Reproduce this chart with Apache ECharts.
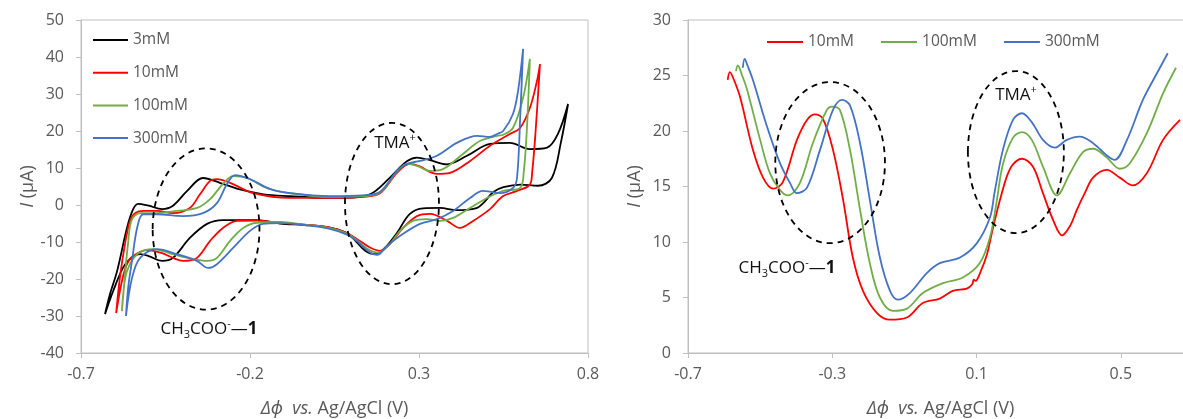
<!DOCTYPE html>
<html><head><meta charset="utf-8">
<script src="https://cdn.jsdelivr.net/npm/echarts@6/dist/echarts.min.js"></script>
<style>html,body{margin:0;padding:0;background:#fff}#chart{width:1183px;height:419px}</style>
</head><body><div id="chart"></div>
<script>
// ---------- Left panel: cyclic voltammograms [potential V, current uA] ----------
const cvNames = ['3mM', '10mM', '100mM', '300mM'];
const cv3mM = [
  [-0.629,-29.5],[-0.614,-24],[-0.593,-17.8],[-0.564,-6.2],[-0.546,-1.2],[-0.531,0.3],[-0.50,-0.2],[-0.46,-1.1],
  [-0.428,-0.2],[-0.386,3.8],[-0.339,7.3],[-0.289,6.0],[-0.23,4.2],[-0.16,2.9],[-0.082,2.4],[0.037,1.9],
  [0.081,1.9],[0.155,2.9],[0.214,7.4],[0.264,11.8],[0.294,12.8],[0.333,12.1],[0.383,11.0],[0.442,13.3],
  [0.51,16.5],[0.569,16.8],[0.628,15.1],[0.679,15.5],[0.711,19.2],[0.741,27.3],
  [0.72,17.0],[0.693,7.3],[0.652,5.2],[0.60,5.5],[0.55,4.8],[0.52,3.5],[0.49,0.5],[0.472,-0.8],[0.44,-1.3],
  [0.412,-1.4],[0.362,-0.8],[0.312,-0.9],[0.273,-2.4],[0.235,-7.5],[0.20,-11.5],[0.17,-13.3],[0.14,-12.3],
  [0.11,-9.5],[0.087,-7.6],[0.03,-6.0],[-0.04,-5.4],[-0.111,-5.0],[-0.18,-4.1],[-0.28,-4.1],[-0.327,-5.1],
  [-0.378,-8.9],[-0.428,-14.3],[-0.46,-15.1],[-0.50,-13.8],[-0.525,-13.3],[-0.555,-14.6],[-0.576,-17.0],
  [-0.605,-23.3],[-0.629,-29.5]
];
const cv10mM = [
  [-0.596,-29.2],[-0.585,-19.7],[-0.57,-10.6],[-0.555,-4.3],[-0.54,-2.2],[-0.515,-1.6],[-0.475,-1.6],[-0.428,-2.2],
  [-0.378,-0.8],[-0.348,2.9],[-0.318,6.5],[-0.298,7.0],[-0.259,6.0],[-0.19,3.2],[-0.082,1.9],[0.037,1.9],
  [0.134,2.2],[0.185,3.2],[0.235,8.7],[0.273,11.1],[0.30,10.5],[0.353,8.4],[0.392,8.7],[0.451,11.9],
  [0.51,16.0],[0.569,19.2],[0.599,20.8],[0.628,26.2],[0.649,33.5],[0.658,38.1],
  [0.645,20],[0.635,9],[0.628,5.5],[0.59,3.8],[0.549,2.4],[0.51,-1.1],[0.46,-4.3],[0.421,-6.2],[0.383,-4.3],
  [0.333,-2.4],[0.294,-3.0],[0.253,-6.2],[0.214,-10.5],[0.185,-12.4],[0.155,-11.5],[0.125,-9.7],[0.087,-7.6],
  [0.03,-6.0],[-0.04,-5.3],[-0.111,-4.8],[-0.18,-4.2],[-0.238,-4.3],[-0.28,-6.2],[-0.318,-9.7],[-0.357,-14.3],
  [-0.398,-15.1],[-0.428,-14.3],[-0.46,-13.0],[-0.505,-12.2],[-0.546,-13.8],[-0.564,-16.0],[-0.579,-20.6],[-0.596,-29.2]
];
const cv100mM = [
  [-0.579,-28.7],[-0.57,-19],[-0.561,-10.6],[-0.55,-4.0],[-0.525,-2.2],[-0.475,-2.2],[-0.416,-1.6],[-0.357,-0.8],
  [-0.318,1.6],[-0.28,5.7],[-0.25,7.8],[-0.209,7.3],[-0.15,4.6],[-0.082,3.2],[0.037,2.2],[0.134,2.4],
  [0.185,3.4],[0.235,9.0],[0.264,11.1],[0.294,10.6],[0.333,9.2],[0.371,9.7],[0.43,13.8],[0.48,17.3],
  [0.531,18.7],[0.549,19.0],[0.578,20.8],[0.608,29.0],[0.628,39.5],
  [0.62,22],[0.61,9],[0.599,4.6],[0.549,3.8],[0.501,1.9],[0.451,-0.8],[0.401,-3.5],[0.362,-4.3],[0.323,-3.8],
  [0.282,-4.3],[0.244,-7.0],[0.214,-10.5],[0.179,-12.9],[0.15,-12.0],[0.12,-9.8],[0.087,-7.7],[0.03,-6.1],
  [-0.04,-5.3],[-0.111,-4.6],[-0.18,-4.8],[-0.22,-6.2],[-0.259,-9.7],[-0.298,-14.3],[-0.327,-15.1],[-0.369,-14.6],
  [-0.428,-13.3],[-0.487,-11.9],[-0.534,-13.3],[-0.564,-17.9],[-0.575,-24],[-0.579,-28.7]
];
const cv300mM = [
  [-0.567,-30],[-0.56,-22],[-0.549,-15],[-0.534,-6.2],[-0.516,-2.5],[-0.475,-2.5],[-0.398,-3.0],[-0.339,-2.2],
  [-0.298,0.5],[-0.268,5.7],[-0.244,8.1],[-0.2,7.0],[-0.14,4.3],[-0.082,3.2],[0.037,2.4],[0.134,2.6],
  [0.185,3.6],[0.235,9.2],[0.264,11.1],[0.303,11.9],[0.353,13.3],[0.412,16.8],[0.472,18.7],[0.51,18.4],
  [0.531,19.2],[0.549,20.0],[0.578,24.6],[0.593,30.8],[0.608,42.2],
  [0.60,25],[0.59,7.3],[0.578,4.6],[0.54,3.2],[0.51,3.6],[0.489,3.8],[0.451,1.9],[0.401,-1.6],[0.353,-3.8],
  [0.303,-5.1],[0.253,-7.8],[0.205,-11.1],[0.176,-13.5],[0.15,-12.5],[0.12,-10.0],[0.087,-8.0],[0.03,-6.3],
  [-0.04,-5.4],[-0.111,-4.9],[-0.162,-5.1],[-0.2,-7.0],[-0.25,-11.6],[-0.298,-16.0],[-0.324,-17.0],[-0.357,-15.1],
  [-0.416,-13.3],[-0.475,-11.9],[-0.525,-14.3],[-0.549,-19.7],[-0.567,-30]
];

// ---------- Right panel: pulse voltammograms [potential V, current uA] ----------
const dpNames = ['10mM', '100mM', '300mM'];
const dp10mM = [
  [-0.59,24.6],[-0.584,25.3],[-0.575,24.8],[-0.556,23.1],[-0.52,18.3],[-0.492,15.8],[-0.464,14.8],[-0.437,15.4],
  [-0.398,19.2],[-0.37,21.0],[-0.348,21.5],[-0.326,21.1],[-0.298,18.3],[-0.27,13.8],[-0.243,8.6],[-0.215,5.6],
  [-0.176,3.6],[-0.14,3.0],[-0.093,3.2],[-0.049,4.5],[-0.002,4.9],[0.034,5.6],[0.073,5.8],[0.088,6.2],[0.092,6.6],
  [0.097,6.5],[0.112,7.4],[0.129,8.9],[0.145,11.2],[0.165,13.8],[0.185,16.0],[0.201,17.0],[0.226,17.5],
  [0.256,16.8],[0.284,14.4],[0.312,12.0],[0.337,10.6],[0.36,11.5],[0.378,12.9],[0.40,14.4],[0.423,15.8],
  [0.461,16.5],[0.497,15.8],[0.533,15.1],[0.572,16.2],[0.617,19.2],[0.664,21.0]
];
const dp100mM = [
  [-0.567,25.4],[-0.562,25.9],[-0.55,25.0],[-0.536,23.7],[-0.5,19.2],[-0.473,16.2],[-0.445,14.7],[-0.423,14.2],
  [-0.39,15.3],[-0.354,18.9],[-0.315,21.9],[-0.301,22.2],[-0.279,21.9],[-0.251,18.3],[-0.223,12.9],[-0.196,8.1],
  [-0.168,5.0],[-0.132,3.8],[-0.093,4.0],[-0.049,5.4],[0.007,6.3],[0.062,6.8],[0.109,8.1],[0.137,10.4],
  [0.155,13.5],[0.173,17.0],[0.201,19.4],[0.226,19.9],[0.253,19.2],[0.284,16.8],[0.323,14.2],[0.359,16.2],
  [0.395,18.1],[0.423,18.4],[0.461,17.6],[0.497,16.6],[0.525,17.1],[0.572,19.8],[0.617,23.4],[0.653,25.7]
];
const dp300mM = [
  [-0.548,25.7],[-0.543,26.5],[-0.535,25.9],[-0.52,24.6],[-0.481,20.4],[-0.445,17.1],[-0.417,15.3],[-0.398,14.4],
  [-0.37,14.9],[-0.334,18.3],[-0.298,21.9],[-0.273,22.8],[-0.251,22.3],[-0.223,18.9],[-0.196,13.8],[-0.168,8.6],
  [-0.14,5.6],[-0.118,4.8],[-0.085,5.4],[-0.038,7.2],[-0.002,8.1],[0.054,8.6],[0.101,9.9],[0.137,12.2],
  [0.15,14.5],[0.173,18.3],[0.201,21.0],[0.226,21.6],[0.253,20.8],[0.284,19.2],[0.317,18.5],[0.35,19.2],
  [0.386,19.5],[0.423,18.9],[0.461,17.8],[0.483,17.4],[0.517,19.2],[0.561,22.8],[0.6,25.2],[0.63,27.0]
];

// ---------- Annotations: dashed ellipses [centre V, centre uA, radius V, radius uA] and labels ----------
const leftEllipses = [[-0.33, -6.5, 0.158, 21.8], [0.22, 0.4, 0.139, 21.8]];
const rightEllipses = [[-0.306, 17.15, 0.152, 7.26], [0.209, 18.1, 0.133, 7.3]];
const leftLabels = [[0.229, 16.8, 'TMA{sup|+}'], [-0.321, -33.5, 'CH{sub|3}COO{sup|-}—{b|1}']];
const rightLabels = [[0.209, 23.2, 'TMA{sup|+}'], [-0.426, 7.7, 'CH{sub|3}COO{sup|-}—{b|1}']];

// ---------- Axis ranges ----------
const leftX = { min: -0.7, max: 0.8, interval: 0.5 };
const leftY = { min: -40, max: 50, interval: 10 };
const rightX = { min: -0.7, max: 0.7, interval: 0.4 };
const rightY = { min: 0, max: 30, interval: 5 };

const colors = { '3mM': '#000000', '10mM': '#ff0000', '100mM': '#70ad47', '300mM': '#4472c4' };
const FONT = '"Open Sans", "Noto Sans", sans-serif';
const GRAY = '#595959';
const LINEGRAY = '#bfbfbf';
const INK = '#111111';

function xAxisOf(r, grid) {
  return {
    type: 'value', gridIndex: grid, min: r.min, max: r.max, interval: r.interval,
    axisLine: { show: true, onZero: false, lineStyle: { color: LINEGRAY, width: 1 } },
    axisTick: { show: true, length: 5, lineStyle: { color: LINEGRAY } },
    axisLabel: { color: GRAY, fontSize: 16, fontFamily: FONT, margin: 13, showMaxLabel: grid === 0 },
    splitLine: { show: false },
    name: '{i|Δϕ}  {i|vs.} Ag/AgCl (V)', nameLocation: 'middle', nameGap: 47,
    nameTextStyle: { color: GRAY, fontSize: 18, fontFamily: FONT,
      rich: { i: { fontStyle: 'italic', color: GRAY, fontSize: 18, fontFamily: FONT } } }
  };
}
function yAxisOf(r, grid) {
  return {
    type: 'value', gridIndex: grid, min: r.min, max: r.max, interval: r.interval,
    axisLine: { show: true, onZero: false, lineStyle: { color: LINEGRAY, width: 1 } },
    axisTick: { show: true, length: 5, lineStyle: { color: LINEGRAY } },
    axisLabel: { color: GRAY, fontSize: 16, fontFamily: FONT, margin: 17 },
    splitLine: { show: false },
    name: '{i|I} (μA)', nameLocation: 'middle', nameRotate: 90, nameGap: 44,
    nameTextStyle: { color: GRAY, fontSize: 18, fontFamily: FONT,
      rich: { i: { fontStyle: 'italic', color: GRAY, fontSize: 18, fontFamily: FONT } } }
  };
}
function lineSeries(name, data, grid) {
  return {
    type: 'line', name: name, data: data, xAxisIndex: grid, yAxisIndex: grid,
    symbol: 'none', showSymbol: false, smooth: 0.35, clip: false,
    lineStyle: { color: colors[name], width: 1.8 }, itemStyle: { color: colors[name] },
    emphasis: { disabled: true }, z: 3
  };
}
function ellipseSeries(data, grid) {
  return {
    type: 'custom', xAxisIndex: grid, yAxisIndex: grid, data: data, clip: false, silent: true, z: 4,
    encode: { x: 0, y: 1 },
    renderItem: function (params, api) {
      const c = api.coord([api.value(0), api.value(1)]);
      const s = api.size([api.value(2), api.value(3)]);
      return { type: 'ellipse', shape: { cx: c[0], cy: c[1], rx: s[0], ry: s[1] },
        style: { fill: 'none', stroke: '#000', lineWidth: 1.8, lineDash: [6, 5] } };
    }
  };
}
const labelRich = {
  sub: { fontSize: 11, lineHeight: 11, verticalAlign: 'bottom', fill: INK, fontFamily: FONT },
  sup: { fontSize: 11, lineHeight: 11, verticalAlign: 'top', fill: INK, fontFamily: FONT },
  b: { fontSize: 17, fontWeight: 'bold', fill: INK, fontFamily: FONT }
};
function labelSeries(data, grid) {
  return {
    type: 'custom', xAxisIndex: grid, yAxisIndex: grid, clip: false, silent: true, z: 10,
    data: data.map(d => [d[0], d[1]]),
    encode: { x: 0, y: 1 },
    renderItem: function (params, api) {
      const c = api.coord([api.value(0), api.value(1)]);
      const txt = data[params.dataIndex][2];
      return { type: 'text', x: Math.round(c[0]), y: Math.round(c[1]), z2: 100,
        style: { text: txt, fill: INK, fontSize: 17, fontFamily: FONT, lineHeight: 22,
          align: 'center', verticalAlign: 'middle', rich: labelRich, opacity: 1 } };
    }
  };
}

const gridBase = { show: true, borderColor: LINEGRAY, borderWidth: 1, backgroundColor: 'transparent',
  containLabel: false, outerBoundsMode: 'none' };

const chart = echarts.init(document.getElementById('chart'), null, { renderer: 'canvas' });
chart.setOption({
  animation: false,
  backgroundColor: '#ffffff',
  grid: [
    Object.assign({ left: 81, top: 20, width: 507, height: 333 }, gridBase),
    Object.assign({ left: 688, top: 20, width: 505, height: 333 }, gridBase)
  ],
  xAxis: [xAxisOf(leftX, 0), xAxisOf(rightX, 1)],
  yAxis: [yAxisOf(leftY, 0), yAxisOf(rightY, 1)],
  legend: [
    { data: cvNames, orient: 'vertical', left: 93, top: 31, padding: 0, icon: 'rect', itemWidth: 35, itemHeight: 2, itemGap: 14.7,
      textStyle: { color: GRAY, fontSize: 15.5, fontFamily: FONT, lineHeight: 18 }, selectedMode: false },
    { data: dpNames, orient: 'horizontal', left: 767, top: 33, padding: 0, icon: 'rect', itemWidth: 36, itemHeight: 2, itemGap: 27,
      textStyle: { color: GRAY, fontSize: 15.5, fontFamily: FONT, lineHeight: 18 }, selectedMode: false }
  ],
  series: [
    lineSeries('3mM', cv3mM, 0),
    lineSeries('10mM', cv10mM, 0),
    lineSeries('100mM', cv100mM, 0),
    lineSeries('300mM', cv300mM, 0),
    lineSeries('10mM', dp10mM, 1),
    lineSeries('100mM', dp100mM, 1),
    lineSeries('300mM', dp300mM, 1),
    ellipseSeries(leftEllipses, 0),
    ellipseSeries(rightEllipses, 1),
    labelSeries(leftLabels, 0),
    labelSeries(rightLabels, 1)
  ]
});
</script></body></html>
